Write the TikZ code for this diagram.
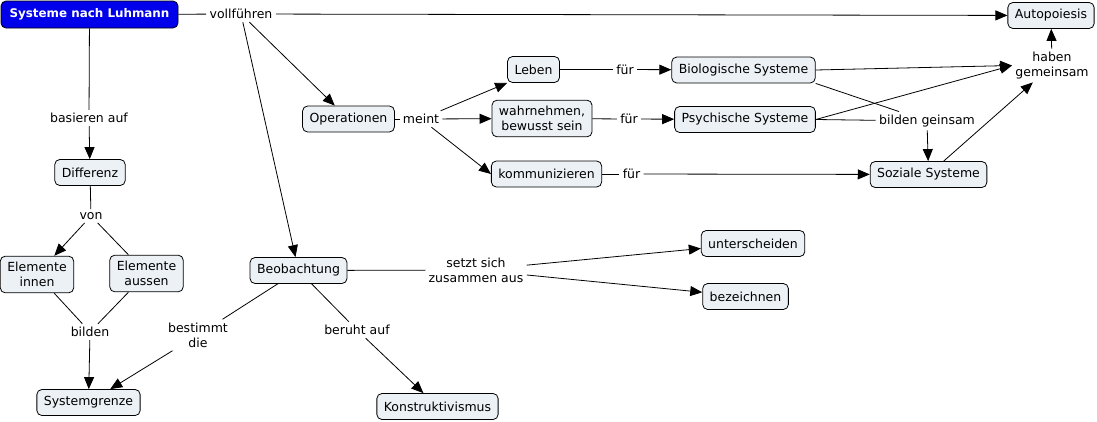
\documentclass[tikz,border=0pt]{standalone}
\usepackage{fontspec}
\setmainfont{DejaVu Sans}
\usetikzlibrary{arrows.meta}
\definecolor{boxfill}{RGB}{236,241,245}
\definecolor{titleblue}{RGB}{0,0,235}
\begin{document}
\begin{tikzpicture}[x=1pt, y=-1pt, >={Triangle[length=12pt,width=10pt]}, line width=0.8pt,
    every node/.style={font=\fontsize{12.5}{15}\selectfont},
    concept/.style={draw, fill=boxfill, rounded corners=5pt, minimum height=26pt, inner xsep=7pt, inner ysep=6pt, align=center},
    title/.style={concept, fill=titleblue, text=white, font=\fontsize{11.9}{14}\selectfont\bfseries, minimum height=27pt, minimum width=177pt},
    link/.style={inner sep=3pt, align=center}]
    \useasboundingbox (0,0) rectangle (1097,421);

    % Begriffe
    \node[title] (luhmann) at (89.5,14.5) {Systeme nach Luhmann};
    \node[concept] (auto) at (1051,15.5) {Autopoiesis};
    \node[concept] (oper) at (348.5,119) {Operationen};
    \node[concept] (leben) at (533.5,69.5) {Leben};
    \node[concept] (wahr) at (542,118.5) {wahrnehmen,\\bewusst sein};
    \node[concept] (komm) at (546.5,174) {kommunizieren};
    \node[concept] (bio) at (743.5,70) {Biologische Systeme};
    \node[concept] (psych) at (745,119.5) {Psychische Systeme};
    \node[concept] (sozial) at (928.5,174.5) {Soziale Systeme};
    \node[concept] (diff) at (90,172.5) {Differenz};
    \node[concept] (innen) at (37,274.5) {Elemente\\innen};
    \node[concept] (aussen) at (146.5,273.5) {Elemente\\aussen};
    \node[concept] (grenze) at (88.5,402.5) {Systemgrenze};
    \node[concept] (beob) at (298.5,270.5) {Beobachtung};
    \node[concept] (konstr) at (437.5,406.5) {Konstruktivismus};
    \node[concept] (untersch) at (753,243.5) {unterscheiden};
    \node[concept] (bezeich) at (745.5,296.5) {bezeichnen};

    % Verbindungswörter
    \node[link] (vollf) at (241,14) {vollführen};
    \node[link] (haben) at (1052,65.5) {haben\\gemeinsam};
    \node[link] (meint) at (421,119) {meint};
    \node[link] (fuerA) at (625,69.5) {für};
    \node[link] (fuerB) at (629,119) {für};
    \node[link] (fuerC) at (631.5,174) {für};
    \node[link] (gemeinsam) at (927,121) {bilden geinsam};
    \node[link] (basiert) at (89,118) {basieren auf};
    \node[link] (von) at (91,216) {von};
    \node[link] (bilden) at (90,332) {bilden};
    \node[link] (bestimmt) at (198,335) {bestimmt\\die};
    \node[link] (beruht) at (357,330) {beruht auf};
    \node[link] (setzt) at (476,270) {setzt sich\\zusammen aus};

    % Verbindungen
    \draw (luhmann) -- (vollf);
    \draw[->] (vollf) -- (auto);
    \draw[->] (vollf) -- (oper);
    \draw[->] (vollf) -- (beob);
    \draw (luhmann) -- (basiert);
    \draw[->] (basiert) -- (diff);
    \draw (diff) -- (von);
    \draw[->] (von) -- (innen);
    \draw (aussen) -- (von);
    \draw (innen) -- (bilden);
    \draw (aussen) -- (bilden);
    \draw[->] (bilden) -- (grenze);
    \draw (beob) -- (bestimmt);
    \draw[->] (bestimmt) -- (grenze);
    \draw (beob) -- (beruht);
    \draw[->] (beruht) -- (konstr);
    \draw (beob) -- (setzt);
    \draw[->] (setzt) -- (untersch);
    \draw[->] (setzt) -- (bezeich);
    \draw (oper) -- (meint);
    \draw[->] (meint) -- (leben.south west);
    \draw[->] (meint) -- (wahr);
    \draw[->] (meint) -- (komm.west);
    \draw (leben) -- (fuerA);
    \draw[->] (fuerA) -- (bio);
    \draw (wahr) -- (fuerB);
    \draw[->] (fuerB) -- (psych);
    \draw (komm) -- (fuerC);
    \draw[->] (fuerC) -- (sozial);
    \draw[->] (bio.east) -- (haben.west);
    \draw[->] (psych.east) -- (haben.west);
    \draw[->] (sozial) -- (haben);
    \draw[->] (haben) -- (auto);
    \draw (bio.south east) -- (gemeinsam);
    \draw (psych.east) -- (gemeinsam);
    \draw[->] (gemeinsam) -- (sozial);
\end{tikzpicture}
\end{document}
